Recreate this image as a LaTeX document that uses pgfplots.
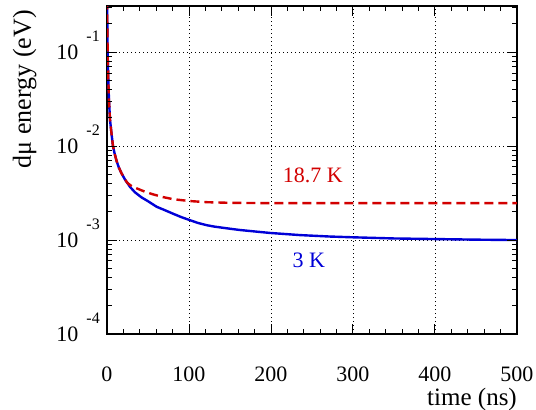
\documentclass[border=0pt]{standalone}
\usepackage{fontspec}
\setmainfont{Liberation Serif}
\usepackage{pgfplots}
\pgfplotsset{compat=1.18}
\definecolor{cblue}{RGB}{0,0,215}
\definecolor{cred}{RGB}{210,0,0}
\newcommand{\tl}[1]{10\hspace{8pt}\smash{\raisebox{18pt}{\fontsize{16}{16}\selectfont -#1}}}
\begin{document}
\begin{tikzpicture}
\path[use as bounding box] (0pt,0pt) rectangle (536pt,410pt);
\begin{axis}[
  at={(107pt,76pt)}, anchor=south west,
  scale only axis, width=410pt, height=328pt,
  xmin=0, xmax=500, ymode=log, ymin=1e-4, ymax=0.31,
  xtick={0,100,200,300,400,500},
  minor x tick num=4,
  ytick={1e-4,1e-3,1e-2,1e-1},
  yticklabels={\tl{4},\tl{3},\tl{2},\tl{1}},
  major tick length=10pt, minor tick length=5pt,
  axis line style={line width=1.8pt},
  every tick/.append style={black, line width=1pt},
  grid=major,
  grid style={black, line width=0.9pt, dash pattern=on 1.2pt off 2.8pt},
  xticklabel style={font=\fontsize{22}{22}\selectfont, anchor=north, inner sep=0pt, yshift=-33pt},
  yticklabel style={font=\fontsize{22}{22}\selectfont, anchor=east, inner sep=0pt, xshift=-7pt},
  xticklabels={0,100,200,300,400,500},
]
\addplot[cblue, line width=2.4pt] coordinates {
(0,0.5) (0.5,0.15) (1,0.08) (1.5,0.055) (2.4,0.031) (3.7,0.019) (5.7,0.0131)
(7.3,0.0100) (9.5,0.0082) (11.8,0.0069) (14.5,0.0059) (17.9,0.0051) (22,0.0044)
(28,0.00369) (34,0.00323) (42,0.00285) (50,0.00259) (60.6,0.00226) (70,0.00209)
(81,0.00190) (91,0.00175) (101,0.00163) (111,0.00152) (121.6,0.00144)
(131,0.00139) (141.8,0.00135) (150,0.00132) (162,0.00128) (180,0.001235)
(199,0.00119) (235,0.00113) (272,0.00109) (300,0.00107) (350,0.00104)
(400,0.001025) (450,0.00101) (500,0.0010)
};
\addplot[cred, line width=2.4pt, dash pattern=on 9pt off 5pt] coordinates {
(0,0.5) (0.5,0.15) (1,0.08) (1.5,0.055) (2.4,0.031) (3.7,0.019) (5.7,0.0131)
(7.3,0.0100) (9.5,0.0082) (11.8,0.0069) (14.5,0.0059) (17.9,0.0051) (22,0.0044)
(25,0.00405) (30,0.00375) (38,0.0035) (47,0.00325) (56.5,0.00306) (68,0.00287)
(81,0.00272) (101,0.0026) (122,0.00253) (150,0.00249) (200,0.00247)
(300,0.00247) (400,0.00247) (500,0.00247)
};
\pgfplotsinvokeforeach{20,40,60,80,120,140,160,180,220,240,260,280,320,340,360,380,420,440,460,480}{
  \draw[black, line width=1pt] (axis cs:#1,1e-4) -- ++(0pt,5pt);
  \draw[black, line width=1pt] (axis cs:#1,0.31) -- ++(0pt,-5pt);
}
\pgfplotsinvokeforeach{100,200,300,400}{
  \draw[black, line width=1pt] (axis cs:#1,1e-4) -- ++(0pt,10pt);
  \draw[black, line width=1pt] (axis cs:#1,0.31) -- ++(0pt,-10pt);
}
\pgfplotsinvokeforeach{2e-4,3e-4,4e-4,5e-4,6e-4,7e-4,8e-4,9e-4,2e-3,3e-3,4e-3,5e-3,6e-3,7e-3,8e-3,9e-3,2e-2,3e-2,4e-2,5e-2,6e-2,7e-2,8e-2,9e-2,2e-1,3e-1}{
  \draw[black, line width=1pt] (axis cs:0,#1) -- ++(5pt,0pt);
  \draw[black, line width=1pt] (axis cs:500,#1) -- ++(-5pt,0pt);
}
\pgfplotsinvokeforeach{1e-3,1e-2,1e-1}{
  \draw[black, line width=1pt] (axis cs:0,#1) -- ++(10pt,0pt);
  \draw[black, line width=1pt] (axis cs:500,#1) -- ++(-10pt,0pt);
}
\node[text=cred, font=\fontsize{22}{22}\selectfont] at (axis cs:251,0.00485) {18.7 K};
\node[text=cblue, font=\fontsize{22}{22}\selectfont] at (axis cs:246,0.00061) {3 K};
\end{axis}
\node[rotate=90, anchor=base east, font=\fontsize{26}{26}\selectfont, inner sep=0pt] at (31pt,400pt) {dμ energy (eV)};
\node[anchor=base east, font=\fontsize{25}{25}\selectfont, inner sep=0pt] at (517pt,4pt) {time (ns)};
\end{tikzpicture}
\end{document}
